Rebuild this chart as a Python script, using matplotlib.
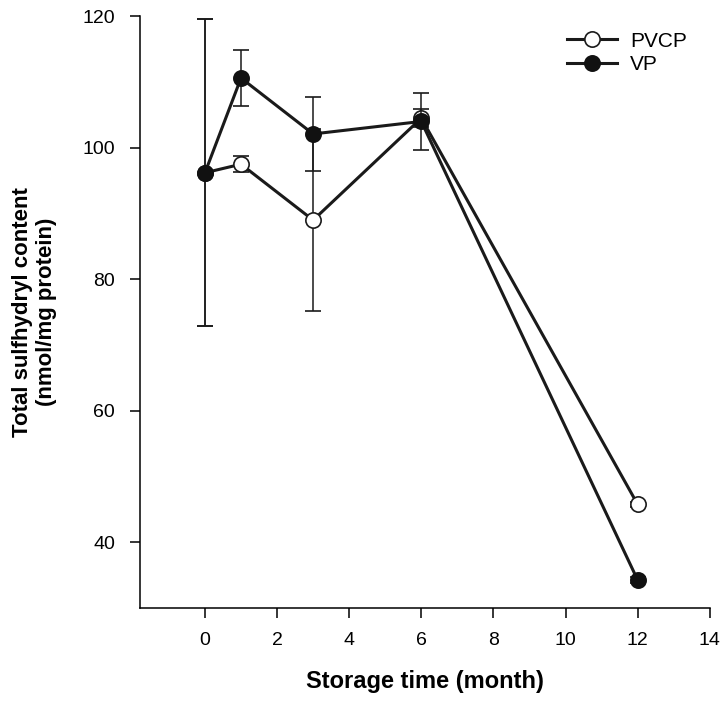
import matplotlib
matplotlib.use('Agg')
import matplotlib.pyplot as plt

plt.rcParams['font.family'] = ['Liberation Sans', 'DejaVu Sans']

# storage time (month)
months = [0, 1, 3, 6, 12]

# total sulfhydryl content (nmol/mg protein)
pvcp = [96.2, 97.5, 89.0, 104.5, 45.8]
pvcp_err = [23.3, 1.2, 13.8, 1.4, 0.4]
vp = [96.2, 110.6, 102.1, 104.0, 34.3]
vp_err = [23.3, 4.3, 5.6, 4.3, 0.4]

fig = plt.figure(figsize=(7.22, 7.04), dpi=100)
ax = fig.add_axes([0.194, 0.136, 0.789, 0.841])

ax.errorbar(months, pvcp, yerr=pvcp_err, color='#1a1a1a', lw=2.2,
            marker='o', ms=11, mfc='white', mec='#1a1a1a', mew=1.2,
            ecolor='#1a1a1a', elinewidth=1.1, capsize=6, capthick=1.1,
            label='PVCP', zorder=2)
ax.errorbar(months, vp, yerr=vp_err, color='#1a1a1a', lw=2.2,
            marker='o', ms=11, mfc='#111111', mec='#111111', mew=1.2,
            ecolor='#1a1a1a', elinewidth=1.1, capsize=6, capthick=1.1,
            label='VP', zorder=3)

ax.set_xlim(-1.8, 14)
ax.set_ylim(30, 120)
ax.set_xticks([0, 2, 4, 6, 8, 10, 12, 14])
ax.set_yticks([40, 60, 80, 100, 120])

for s in ['top', 'right']:
    ax.spines[s].set_visible(False)
for s in ['left', 'bottom']:
    ax.spines[s].set_linewidth(1.1)
ax.tick_params(direction='out', length=7, width=1.1, labelsize=14)
ax.tick_params(axis='x', pad=10)
ax.tick_params(axis='y', pad=11)

ax.set_xlabel('Storage time (month)', fontsize=17, fontweight='bold', labelpad=15)
ax.set_ylabel('Total sulfhydryl content\n(nmol/mg protein)', fontsize=16,
              fontweight='bold', labelpad=18, linespacing=1.2)

handles, labels = ax.get_legend_handles_labels()
ax.legend([h[0] for h in handles], labels, loc='upper left',
          bbox_to_anchor=(0.785, 0.955), bbox_transform=fig.transFigure,
          frameon=False, fontsize=15, handlelength=2.4, handletextpad=0.65,
          labelspacing=0.2, borderpad=0, borderaxespad=0)

fig.savefig('out.png', dpi=100)
